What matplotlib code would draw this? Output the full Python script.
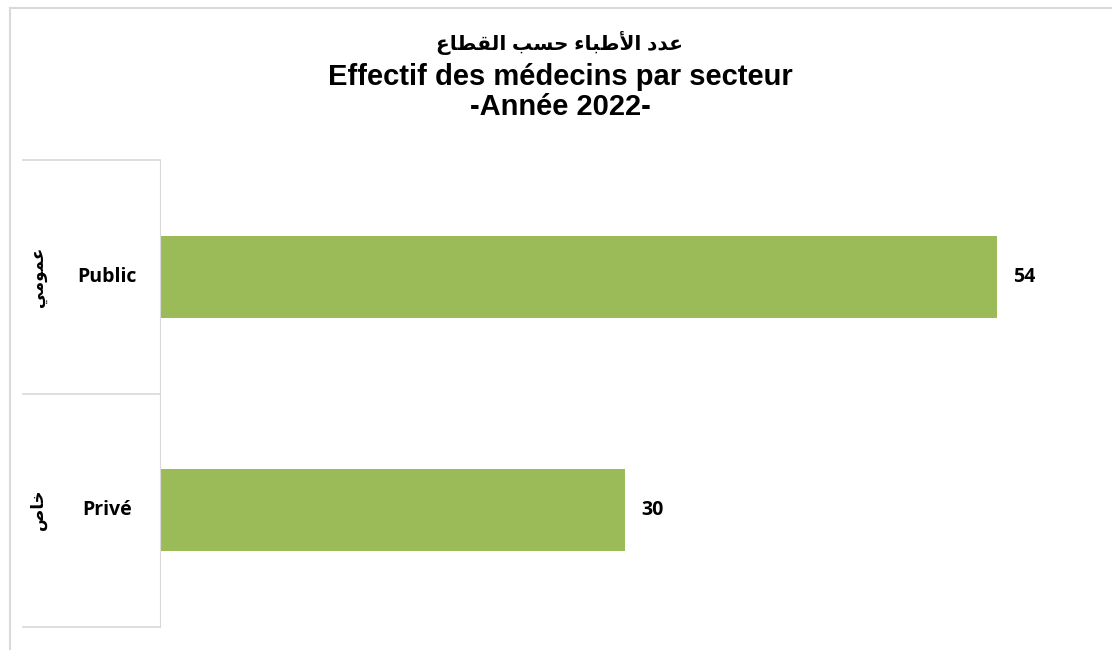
import matplotlib
matplotlib.use('Agg')
import matplotlib.pyplot as plt
from matplotlib.lines import Line2D
import matplotlib.transforms as mtransforms

# data
categories = ['Privé', 'Public']
categories_ar = ['خاص', 'عمومي']
values = [30, 54]
title_ar = 'عدد الأطباء حسب القطاع'
title_fr = 'Effectif des médecins par secteur'
title_year = '-Année 2022-'

# arabic shaping (matplotlib has no bidi / joining)
FORMS = {
    'ا': (0xFE8D, 0xFE8E, None, None),
    'أ': (0xFE83, 0xFE84, None, None),
    'ب': (0xFE8F, 0xFE90, 0xFE91, 0xFE92),
    'ح': (0xFEA1, 0xFEA2, 0xFEA3, 0xFEA4),
    'خ': (0xFEA5, 0xFEA6, 0xFEA7, 0xFEA8),
    'د': (0xFEA9, 0xFEAA, None, None),
    'س': (0xFEB1, 0xFEB2, 0xFEB3, 0xFEB4),
    'ص': (0xFEB9, 0xFEBA, 0xFEBB, 0xFEBC),
    'ط': (0xFEC1, 0xFEC2, 0xFEC3, 0xFEC4),
    'ع': (0xFEC9, 0xFECA, 0xFECB, 0xFECC),
    'ق': (0xFED5, 0xFED6, 0xFED7, 0xFED8),
    'ل': (0xFEDD, 0xFEDE, 0xFEDF, 0xFEE0),
    'م': (0xFEE1, 0xFEE2, 0xFEE3, 0xFEE4),
    'و': (0xFEED, 0xFEEE, None, None),
    'ي': (0xFEF1, 0xFEF2, 0xFEF3, 0xFEF4),
    'ء': (0xFE80, None, None, None),
}
LAM_ALEF = {'أ': (0xFEF7, 0xFEF8), 'ا': (0xFEFB, 0xFEFC)}


def dual(c):
    return c in FORMS and FORMS[c][2] is not None


def shape(txt):
    # merge lam + alef
    chars = []
    i = 0
    while i < len(txt):
        if txt[i] == 'ل' and i + 1 < len(txt) and txt[i + 1] in LAM_ALEF:
            chars.append(('LA', txt[i + 1]))
            i += 2
        else:
            chars.append((txt[i], None))
            i += 1
    out = []
    for k, (c, extra) in enumerate(chars):
        prev = chars[k - 1][0] if k > 0 else None
        nxt = chars[k + 1][0] if k + 1 < len(chars) else None
        join_prev = prev is not None and prev != 'LA' and dual(prev)
        if c == 'LA':
            iso, fin = LAM_ALEF[extra]
            out.append(chr(fin if join_prev else iso))
            continue
        if c not in FORMS:
            out.append(c)
            continue
        f = FORMS[c]
        join_next = dual(c) and nxt is not None and (nxt in FORMS or nxt == 'LA')
        if join_prev and join_next:
            out.append(chr(f[3]))
        elif join_prev and f[1]:
            out.append(chr(f[1]))
        elif join_next:
            out.append(chr(f[2]))
        else:
            out.append(chr(f[0]))
    return ''.join(out)[::-1]


W, H = 1112, 650
fig = plt.figure(figsize=(W / 100, H / 100), dpi=100)

ax_l, ax_r, ax_t, ax_b = 160, 1090, 160, 627
ax = fig.add_axes([ax_l / W, 1 - ax_b / H, (ax_r - ax_l) / W, (ax_b - ax_t) / H])

green = '#9BBB59'
grid = '#D9D9D9'
ax.barh(range(len(values)), values, height=0.35, color=green)
ax.set_xlim(0, 60)
ax.set_ylim(-0.5, 1.5)
for s in ['top', 'right', 'bottom']:
    ax.spines[s].set_visible(False)
ax.spines['left'].set_color(grid)
ax.set_xticks([])
ax.set_yticks([])

lab_font = dict(family=['Open Sans', 'DejaVu Sans'], fontweight='bold', fontsize=14)

for i, v in enumerate(values):
    ax.annotate(str(v), (v, i), xytext=(11.5, 0), textcoords='offset points',
                ha='left', va='center', color='black', **lab_font)

# category axis (two levels)
tr = mtransforms.blended_transform_factory(ax.transAxes, ax.transData)
x0 = (23 - ax_l) / (ax_r - ax_l)
for yb in [-0.5, 0.5, 1.5]:
    ax.plot([x0, 0], [yb, yb], color=grid, lw=1.2, transform=tr, clip_on=False)

x_lab = (107 - ax_l) / (ax_r - ax_l)
x_ar = (38 - ax_l) / (ax_r - ax_l)
for i, (c, a) in enumerate(zip(categories, categories_ar)):
    ax.text(x_lab, i, c, transform=tr, ha='center', va='center', **lab_font)
    ax.text(x_ar, i, shape(a), transform=tr, ha='center', va='center', rotation=90,
            family=['DejaVu Sans'], fontweight='bold', fontsize=12)

# titles
tfont = dict(family=['Liberation Sans', 'DejaVu Sans'], fontweight='bold')
fig.text(0.5035, 1 - 43 / H, shape(title_ar), ha='center', va='center', fontsize=14.5, **tfont)
fig.text(0.5035, 1 - 77 / H, title_fr, ha='center', va='center', fontsize=21, **tfont)
fig.text(0.5035, 1 - 107 / H, title_year, ha='center', va='center', fontsize=21, **tfont)

# chart frame
fig.add_artist(Line2D([9.5 / W, 9.5 / W], [0, 1 - 7.5 / H], color=grid, lw=1.5, transform=fig.transFigure))
fig.add_artist(Line2D([9.5 / W, 1], [1 - 7.5 / H, 1 - 7.5 / H], color=grid, lw=1.5, transform=fig.transFigure))

fig.savefig('out.png', dpi=100)
